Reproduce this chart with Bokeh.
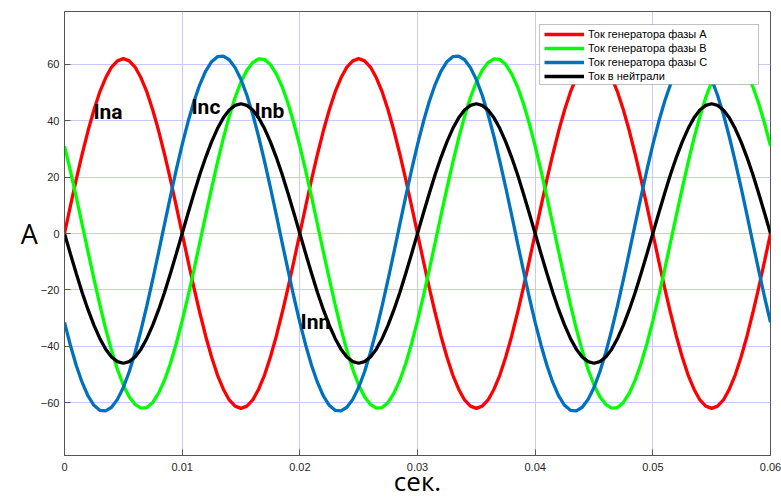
from bokeh.plotting import figure
from bokeh.models import Range1d, FixedTicker, Label, Legend, LegendItem, BoxAnnotation
from bokeh.embed import file_html
from bokeh.resources import INLINE

# sample times, s (every 0.5 ms)
t = [round(i * 0.0005, 4) for i in range(121)]

ina = [0.0, 9.7, 19.2, 28.1, 36.4, 43.8, 50.2, 55.2, 59.0, 61.2, 62.0, 61.2, 59.0, 55.2, 50.2, 43.8, 36.4, 28.1, 19.2, 9.7,
       0.0, -9.7, -19.2, -28.1, -36.4, -43.8, -50.2, -55.2, -59.0, -61.2, -62.0, -61.2, -59.0, -55.2, -50.2, -43.8, -36.4, -28.1, -19.2, -9.7,
       0.0, 9.7, 19.2, 28.1, 36.4, 43.8, 50.2, 55.2, 59.0, 61.2, 62.0, 61.2, 59.0, 55.2, 50.2, 43.8, 36.4, 28.1, 19.2, 9.7,
       0.0, -9.7, -19.2, -28.1, -36.4, -43.8, -50.2, -55.2, -59.0, -61.2, -62.0, -61.2, -59.0, -55.2, -50.2, -43.8, -36.4, -28.1, -19.2, -9.7,
       0.0, 9.7, 19.2, 28.1, 36.4, 43.8, 50.2, 55.2, 59.0, 61.2, 62.0, 61.2, 59.0, 55.2, 50.2, 43.8, 36.4, 28.1, 19.2, 9.7,
       0.0, -9.7, -19.2, -28.1, -36.4, -43.8, -50.2, -55.2, -59.0, -61.2, -62.0, -61.2, -59.0, -55.2, -50.2, -43.8, -36.4, -28.1, -19.2, -9.7,
       0.0]

inb = [31.0, 22.2, 12.9, 3.2, -6.5, -16.0, -25.2, -33.8, -41.5, -48.2,
       -53.7, -57.9, -60.6, -61.9, -61.7, -59.9, -56.6, -52.0, -46.1, -39.0,
       -31.0, -22.2, -12.9, -3.2, 6.5, 16.0, 25.2, 33.8, 41.5, 48.2,
       53.7, 57.9, 60.6, 61.9, 61.7, 59.9, 56.6, 52.0, 46.1, 39.0,
       31.0, 22.2, 12.9, 3.2, -6.5, -16.0, -25.2, -33.8, -41.5, -48.2,
       -53.7, -57.9, -60.6, -61.9, -61.7, -59.9, -56.6, -52.0, -46.1, -39.0,
       -31.0, -22.2, -12.9, -3.2, 6.5, 16.0, 25.2, 33.8, 41.5, 48.2,
       53.7, 57.9, 60.6, 61.9, 61.7, 59.9, 56.6, 52.0, 46.1, 39.0,
       31.0, 22.2, 12.9, 3.2, -6.5, -16.0, -25.2, -33.8, -41.5, -48.2,
       -53.7, -57.9, -60.6, -61.9, -61.7, -59.9, -56.6, -52.0, -46.1, -39.0,
       -31.0, -22.2, -12.9, -3.2, 6.5, 16.0, 25.2, 33.8, 41.5, 48.2,
       53.7, 57.9, 60.6, 61.9, 61.7, 59.9, 56.6, 52.0, 46.1, 39.0,
       31.0]

inc = [-31.5, -39.6, -46.8, -52.8, -57.6, -60.9, -62.7, -62.9, -61.6, -58.8,
       -54.6, -49.0, -42.2, -34.3, -25.6, -16.3, -6.6, 3.3, 13.1, 22.6,
       31.5, 39.6, 46.8, 52.8, 57.6, 60.9, 62.7, 62.9, 61.6, 58.8,
       54.6, 49.0, 42.2, 34.3, 25.6, 16.3, 6.6, -3.3, -13.1, -22.6,
       -31.5, -39.6, -46.8, -52.8, -57.6, -60.9, -62.7, -62.9, -61.6, -58.8,
       -54.6, -49.0, -42.2, -34.3, -25.6, -16.3, -6.6, 3.3, 13.1, 22.6,
       31.5, 39.6, 46.8, 52.8, 57.6, 60.9, 62.7, 62.9, 61.6, 58.8,
       54.6, 49.0, 42.2, 34.3, 25.6, 16.3, 6.6, -3.3, -13.1, -22.6,
       -31.5, -39.6, -46.8, -52.8, -57.6, -60.9, -62.7, -62.9, -61.6, -58.8,
       -54.6, -49.0, -42.2, -34.3, -25.6, -16.3, -6.6, 3.3, 13.1, 22.6,
       31.5, 39.6, 46.8, 52.8, 57.6, 60.9, 62.7, 62.9, 61.6, 58.8,
       54.6, 49.0, 42.2, 34.3, 25.6, 16.3, 6.6, -3.3, -13.1, -22.6,
       -31.5]

inn = [0.0, -7.2, -14.2, -20.9, -27.0, -32.5, -37.2, -41.0, -43.8, -45.4,
       -46.0, -45.4, -43.8, -41.0, -37.2, -32.5, -27.0, -20.9, -14.2, -7.2,
       0.0, 7.2, 14.2, 20.9, 27.0, 32.5, 37.2, 41.0, 43.8, 45.4,
       46.0, 45.4, 43.8, 41.0, 37.2, 32.5, 27.0, 20.9, 14.2, 7.2,
       0.0, -7.2, -14.2, -20.9, -27.0, -32.5, -37.2, -41.0, -43.8, -45.4,
       -46.0, -45.4, -43.8, -41.0, -37.2, -32.5, -27.0, -20.9, -14.2, -7.2,
       0.0, 7.2, 14.2, 20.9, 27.0, 32.5, 37.2, 41.0, 43.8, 45.4,
       46.0, 45.4, 43.8, 41.0, 37.2, 32.5, 27.0, 20.9, 14.2, 7.2,
       0.0, -7.2, -14.2, -20.9, -27.0, -32.5, -37.2, -41.0, -43.8, -45.4,
       -46.0, -45.4, -43.8, -41.0, -37.2, -32.5, -27.0, -20.9, -14.2, -7.2,
       0.0, 7.2, 14.2, 20.9, 27.0, 32.5, 37.2, 41.0, 43.8, 45.4,
       46.0, 45.4, 43.8, 41.0, 37.2, 32.5, 27.0, 20.9, 14.2, 7.2,
       0.0]

series_names = ["Ток генератора фазы А", "Ток генератора фазы В", "Ток генератора фазы С", "Ток в нейтрали"]
series_colors = ["#ff0000", "#00ff00", "#0072bd", "#000000"]

x_ticks = [0, 0.01, 0.02, 0.03, 0.04, 0.05, 0.06]
x_tick_labels = ["0", "0.01", "0.02", "0.03", "0.04", "0.05", "0.06"]
y_ticks = [-60, -40, -20, 0, 20, 40, 60]

annotations = [("Ina", 0.00246, 43.1), ("Inc", 0.01079, 45.0), ("Inb", 0.01615, 43.6), ("Inn", 0.02006, -31.5)]

p = figure(width=781, height=501, output_backend="svg", toolbar_location=None,
           x_range=Range1d(0, 0.06), y_range=Range1d(-78.7, 78.7),
           min_border_left=64, min_border_right=11, min_border_top=11, min_border_bottom=46)
p.background_fill_color = "white"
p.border_fill_color = "white"
p.outline_line_color = "#555555"
p.outline_line_width = 1

for ax in (p.xaxis, p.yaxis):
    ax.axis_line_color = "#555555"
    ax.major_tick_line_color = "#555555"
    ax.major_tick_in = 6
    ax.major_tick_out = 0
    ax.minor_tick_line_color = None
    ax.major_label_text_font = "Liberation Sans"
    ax.major_label_text_font_size = "11px"
    ax.major_label_text_color = "#262626"
    ax.axis_label_text_font = "Open Sans"
    ax.axis_label_text_font_style = "normal"
    ax.axis_label_text_color = "black"

p.xaxis.ticker = FixedTicker(ticks=x_ticks)
p.xaxis.major_label_overrides = {tk: lb for tk, lb in zip(x_ticks, x_tick_labels)}
p.xaxis.major_label_standoff = 7
p.xaxis.axis_label = "сек."
p.xaxis.axis_label_text_font_size = "26px"
p.xaxis.axis_label_standoff = -11

p.yaxis.ticker = FixedTicker(ticks=y_ticks)
p.yaxis.major_label_standoff = 5
p.yaxis.axis_label = "А"
p.yaxis.axis_label_text_font_size = "27px"
p.yaxis.axis_label_standoff = 0
ya = p.yaxis[0]
if "axis_label_orientation" in ya.properties():
    ya.axis_label_orientation = "horizontal"

p.grid.grid_line_color = "#c8c8fa"
p.grid.grid_line_width = 1

renderers = []
for ys, col in zip([ina, inb, inc, inn], series_colors):
    r = p.line(t, ys, line_color=col, line_width=3.3)
    renderers.append(r)

box = BoxAnnotation(left=0.04037, right=0.05898, top=74.09, bottom=52.82,
                    fill_color="white", fill_alpha=1, line_color="#333333", line_width=1)
p.add_layout(box)

legend = Legend(items=[LegendItem(label=n, renderers=[r]) for n, r in zip(series_names, renderers)],
                location=(477, 369), border_line_alpha=0, background_fill_alpha=0,
                glyph_width=40, glyph_height=14, label_height=14, spacing=0, padding=3, margin=0,
                label_standoff=4, label_text_font="Liberation Sans", label_text_font_size="11px",
                label_text_color="#000000")
p.add_layout(legend)

for txt, x, y in annotations:
    p.add_layout(Label(x=x, y=y, text=txt, text_font="Roboto", text_font_style="bold",
                       text_font_size="21px", text_color="black", text_align="left",
                       text_baseline="alphabetic"))

open("out.html", "w").write(file_html(p, INLINE))
